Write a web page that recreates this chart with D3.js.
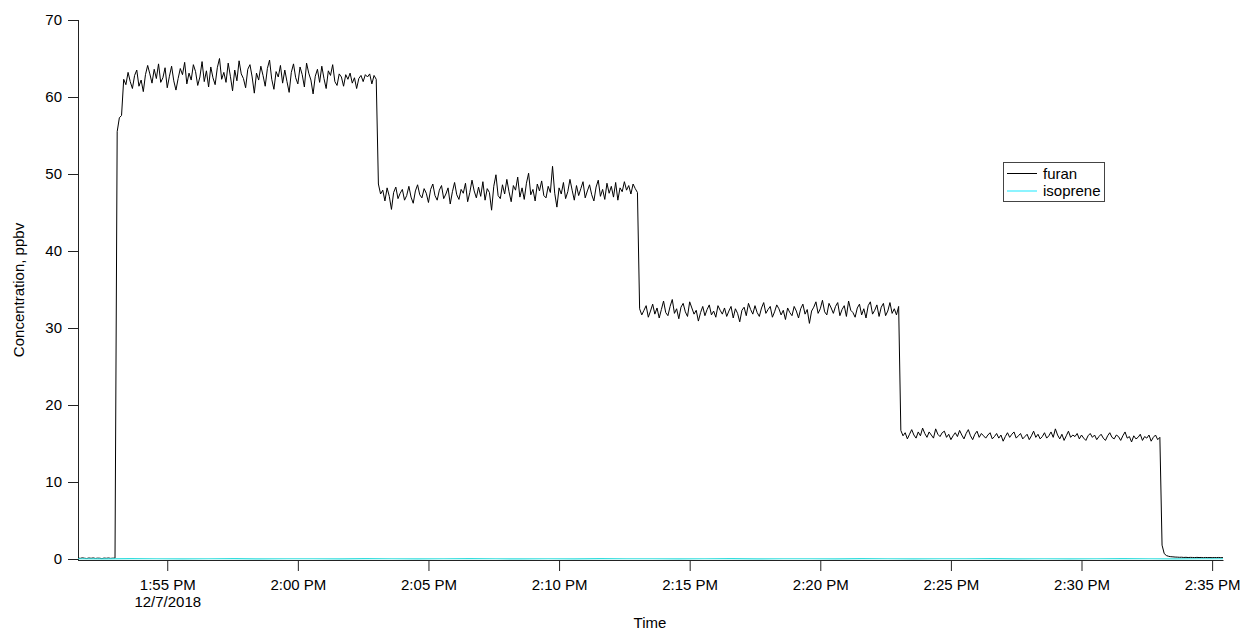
<!DOCTYPE html>
<html>
<head>
<meta charset="utf-8">
<script src="https://cdn.jsdelivr.net/npm/d3@7"></script>
<style>
  body { margin: 0; background: #fff; }
  svg { font-family: "Liberation Sans", Arial, sans-serif; }
</style>
</head>
<body>
<svg id="chart" width="1243" height="632"></svg>
<script>
// furan samples, 5 s apart, starting at 1:51:35 PM
var sampleStart = "2018-12-07T13:51:35";
var sampleStep = 5; // seconds

var furanPre = [0.12, 0.08, 0.15, 0.1, 0.06, 0.13, 0.09, 0.14, 0.07, 0.11, 0.1, 0.05, 0.12, 0.09, 0.13, 0.08, 0.11, 0.1];

var furanLevel1 = [55.5, 57.3, 57.6,
  62.3, 61.6, 63.2, 62.0, 61.1, 62.8, 63.5, 61.4, 62.2, 60.7, 62.9, 64.1, 63.0, 61.8, 63.6, 62.4, 64.3, 61.9, 62.5, 63.8,
  61.2, 62.7, 64.0, 62.1, 60.9, 62.4, 63.7, 62.9, 64.5, 61.7, 63.1, 62.2, 64.2, 63.3, 61.5, 62.6, 64.6, 62.0, 63.4, 61.3,
  63.9, 62.5, 61.6, 63.8, 65.0, 62.3, 63.2, 61.9, 64.4, 62.7, 60.8, 63.5, 62.1, 64.7, 63.0, 62.4, 61.2, 63.6, 64.2, 62.6,
  60.5, 63.1, 62.2, 64.0, 62.8, 61.4, 63.7, 64.8, 62.3, 61.0, 63.3, 62.6, 64.1, 61.8, 63.5, 62.0, 60.6, 63.2, 64.3, 62.5,
  61.7, 63.9, 62.9, 61.3, 64.4, 63.1, 62.2, 60.4, 62.7, 63.6, 61.9, 64.0, 62.4, 61.1, 63.4, 62.8, 64.2, 62.0, 61.5, 63.0,
  62.6, 61.4, 62.9, 62.3, 63.1, 61.8, 62.5, 61.1, 62.4, 62.8, 62.0, 62.9, 62.6, 63.0, 61.7, 62.8, 62.3];

var furanLevel2 = [
  48.7, 47.4, 47.9, 46.5, 48.2, 47.1, 45.4, 47.6, 48.3, 46.8, 47.5, 48.0, 46.6, 47.2, 48.4, 47.0, 46.2, 47.8, 48.6, 47.3,
  46.9, 48.1, 47.5, 46.3, 48.0, 48.7, 47.2, 46.6, 47.9, 48.5, 46.8, 47.4, 48.2, 46.1, 47.7, 48.9, 47.3, 46.7, 48.0, 47.5,
  48.8, 46.4, 47.6, 49.2, 47.8, 46.9, 48.3, 47.1, 49.0, 46.6, 48.1, 47.6, 45.3, 48.4, 49.9, 47.2, 46.8, 48.6, 47.4, 49.3,
  47.7, 46.4, 48.5, 47.9, 49.6, 47.0, 48.2, 46.7, 48.8, 50.1, 47.3, 48.0, 46.5, 48.7, 47.8, 49.1, 47.2, 46.9, 48.4, 47.6,
  51.0, 47.5, 45.7, 48.2, 47.4, 48.9, 46.8, 47.7, 49.3, 47.9, 46.6, 48.5, 47.2, 48.1, 49.0, 46.9, 47.8, 48.6, 47.3, 46.5,
  48.3, 49.2, 47.1, 48.0, 46.7, 48.8, 47.5, 48.4, 47.0, 48.9, 46.6, 48.2, 47.7, 49.0, 47.9, 48.5, 47.4, 48.7, 48.1, 47.6];

var furanLevel3 = [
  32.5, 31.7, 32.3, 32.9, 31.4, 32.2, 33.1, 31.8, 32.6, 31.3, 32.4, 33.5, 32.0, 31.6, 32.8, 33.7, 31.9, 32.5, 31.2, 32.7,
  33.2, 32.1, 31.5, 33.4, 32.6, 31.8, 32.3, 30.9, 32.0, 32.8, 31.6, 32.4, 33.0, 31.7, 32.2, 31.4, 32.9, 32.3, 31.8, 32.6,
  31.5, 32.2, 32.8, 31.3, 32.5, 31.9, 30.8, 32.3, 32.7, 31.6, 33.2, 32.4, 31.8, 32.9, 32.0, 31.5, 32.6, 33.3, 31.9, 32.4,
  32.8, 31.4, 32.1, 33.0, 32.5, 31.7, 32.3, 31.1, 32.6, 32.0, 31.6, 32.8, 32.2, 31.3, 32.5, 33.1, 31.8, 32.4, 30.6, 32.2,
  32.7, 33.4, 31.9, 32.5, 33.6, 32.1, 31.7, 33.2, 32.6, 31.9, 32.8, 33.3, 31.6, 32.4, 32.9, 31.5, 33.5, 32.3, 32.0, 31.4,
  32.6, 33.1, 31.7, 32.5, 31.3, 32.9, 33.4, 31.8, 32.3, 33.0, 31.5, 32.7, 33.2, 31.6, 32.2, 33.3, 31.9, 32.5, 31.7, 32.8];

var furanLevel4 = [
  16.7, 16.0, 16.4, 15.6, 16.2, 16.8, 16.1, 15.7, 16.5, 16.0, 17.0, 16.3, 15.8, 16.5, 16.1, 15.7, 16.9, 16.2, 15.9, 16.4,
  16.6, 15.8, 16.2, 15.5, 16.0, 16.4, 15.9, 16.7, 16.1, 15.6, 16.3, 16.8, 16.0, 15.5, 16.2, 16.6, 15.8, 16.3, 16.0, 15.7,
  16.1, 16.4, 15.6, 15.9, 16.3, 15.7, 16.1, 15.3, 15.9, 16.4, 15.8, 16.2, 16.5, 15.7, 16.0, 16.3, 15.6, 15.9, 16.2, 15.5,
  16.0, 16.6, 15.8, 16.2, 15.6, 15.9, 16.4, 15.7, 16.0, 16.5, 15.8, 16.9, 16.1, 15.6, 16.2, 15.4, 16.0, 16.6, 15.8, 16.1,
  15.9, 16.3, 15.6, 16.1, 15.7, 15.4, 16.0, 16.3, 15.8, 16.1, 15.5, 15.9, 16.2, 15.7, 15.4, 16.0, 16.4, 15.8, 15.6, 16.1,
  15.9, 15.4, 16.0, 16.5, 15.7, 15.9, 15.2, 16.0, 15.6, 15.8, 16.2, 15.4, 15.9, 15.7, 16.1, 15.3, 15.8, 16.1, 15.5, 15.8];

var furanPost = [1.8, 0.7, 0.45, 0.35, 0.3, 0.28, 0.25, 0.24, 0.22, 0.23, 0.2, 0.22, 0.19, 0.21, 0.2,
  0.18, 0.21, 0.19, 0.2, 0.17, 0.2, 0.18, 0.19, 0.17, 0.19, 0.18, 0.2, 0.17, 0.18];

// isoprene, one sample per minute from 1:51:35 PM
var isopreneStep = 60;
var isoprene = [0.03, 0.02, 0.04, 0.03, 0.02, 0.03, 0.04, 0.02, 0.03, 0.03, 0.02, 0.04, 0.03, 0.02, 0.03,
  0.04, 0.03, 0.02, 0.03, 0.02, 0.04, 0.03, 0.03, 0.02, 0.03, 0.04, 0.02, 0.03, 0.03, 0.02,
  0.04, 0.03, 0.02, 0.03, 0.03, 0.04, 0.02, 0.03, 0.02, 0.03, 0.04, 0.03, 0.02, 0.03, 0.03];

var xDomain = ["2018-12-07T13:51:35", "2018-12-07T14:35:25"];
var yTicks = [0, 10, 20, 30, 40, 50, 60, 70];
var xTicks = ["2018-12-07T13:55:00", "2018-12-07T14:00:00", "2018-12-07T14:05:00", "2018-12-07T14:10:00",
  "2018-12-07T14:15:00", "2018-12-07T14:20:00", "2018-12-07T14:25:00", "2018-12-07T14:30:00", "2018-12-07T14:35:00"];
var firstTickDate = "12/7/2018";

var seriesNames = ["furan", "isoprene"];
var seriesColors = ["#000000", "#33dede"];

var parse = d3.isoParse;
var t0 = parse(sampleStart);

var furan = [].concat(furanPre, furanLevel1, furanLevel2, furanLevel3, furanLevel4, furanPost)
  .map(function(v, i){ return {t: new Date(t0.getTime() + i * sampleStep * 1000), v: v}; });
var iso = isoprene.map(function(v, i){ return {t: new Date(t0.getTime() + i * isopreneStep * 1000), v: v}; });

var svg = d3.select("#chart");

var x = d3.scaleTime().domain(xDomain.map(parse)).range([78, 1223]);
var y = d3.scaleLinear().domain([0, 70]).range([559, 20]);

svg.append("clipPath").attr("id", "plot")
  .append("rect").attr("x", 78).attr("y", 0).attr("width", 1145).attr("height", 562);

// axes
var fmt = d3.timeFormat("%-I:%M %p");

var xAxis = svg.append("g")
  .attr("transform", "translate(0,560)")
  .call(d3.axisBottom(x).tickValues(xTicks.map(parse)).tickSize(11).tickSizeOuter(0).tickFormat(fmt));

var yAxis = svg.append("g")
  .attr("transform", "translate(78,0)")
  .call(d3.axisLeft(y).tickValues(yTicks).tickSize(10).tickSizeOuter(0));

svg.selectAll(".domain, .tick line").attr("stroke", "#222");
svg.selectAll(".tick text").attr("fill", "#000").style("font-size", "15px");
yAxis.selectAll(".tick text").attr("x", -16);
xAxis.selectAll(".tick text").attr("y", 19);

// date under the first time label
xAxis.select(".tick text").append("tspan")
  .attr("x", 0).attr("dy", "1.15em").text(firstTickDate);

// y axis line should reach the x axis
yAxis.select(".domain").attr("d", "M0.5,20V561");

// traces
var line = d3.line()
  .x(function(d){ return x(d.t); })
  .y(function(d){ return y(d.v); });

var plot = svg.append("g").attr("clip-path", "url(#plot)");

plot.append("path").datum(furan)
  .attr("fill", "none").attr("stroke", seriesColors[0]).attr("stroke-width", 1)
  .attr("d", line);

plot.append("path").datum(iso)
  .attr("fill", "none").attr("stroke", seriesColors[1]).attr("stroke-width", 1.2)
  .attr("d", line);

// axis titles
svg.append("text")
  .attr("x", 650).attr("y", 628)
  .attr("text-anchor", "middle").style("font-size", "15px")
  .text("Time");

svg.append("text")
  .attr("transform", "translate(24,290) rotate(-90)")
  .attr("text-anchor", "middle").style("font-size", "15px")
  .text("Concentration, ppbv");

// legend
var legend = svg.append("g").attr("transform", "translate(1003,162)");
legend.append("rect")
  .attr("x", 0.5).attr("y", 0.5).attr("width", 101).attr("height", 39)
  .attr("fill", "#fff").attr("stroke", "#444");

var rows = legend.selectAll(".row").data(seriesNames).enter().append("g")
  .attr("class", "row")
  .attr("transform", function(d, i){ return "translate(0," + (11.5 + i * 17.5) + ")"; });

rows.append("line")
  .attr("x1", 4).attr("x2", 34).attr("y1", 0).attr("y2", 0)
  .attr("stroke", function(d, i){ return i === 0 ? seriesColors[0] : "#66f0ff"; })
  .attr("stroke-width", function(d, i){ return i === 0 ? 1 : 1.5; });

rows.append("text")
  .attr("x", 40).attr("dy", "0.35em")
  .style("font-size", "15px")
  .text(function(d){ return d; });
</script>
</body>
</html>
